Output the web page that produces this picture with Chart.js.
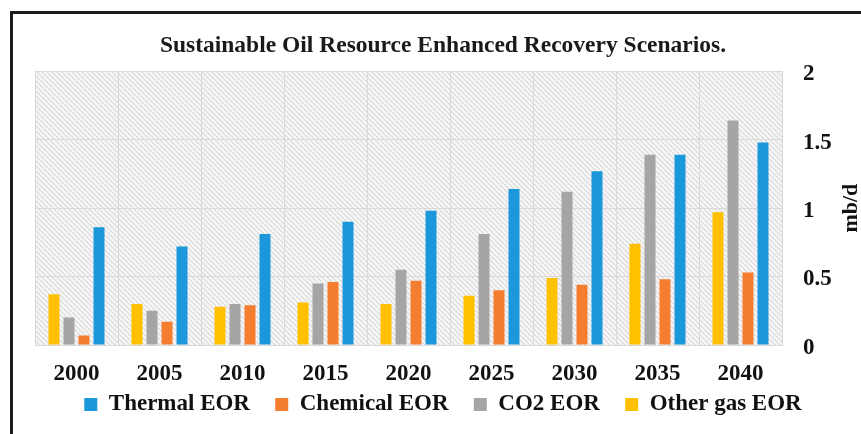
<!DOCTYPE html>
<html>
<head>
<meta charset="utf-8">
<script src="https://cdn.jsdelivr.net/npm/chart.js@4.4.1/dist/chart.umd.min.js"></script>
<style>
  html, body { margin: 0; padding: 0; background: #fff; overflow: hidden; }
  #wrap { position: absolute; left: 0; top: 0; width: 861px; height: 434px; }
  #frame {
    position: absolute; left: 10px; top: 11px; width: 900px; height: 500px;
    border: 3px solid #1c1c1c; pointer-events: none;
  }
</style>
</head>
<body>
<div id="wrap"><canvas id="eorChart"></canvas></div>
<div id="frame"></div>
<script>
const years = ['2000', '2005', '2010', '2015', '2020', '2025', '2030', '2035', '2040']
const thermalEOR = [0.86, 0.72, 0.81, 0.90, 0.98, 1.14, 1.27, 1.39, 1.48]
const chemicalEOR = [0.07, 0.17, 0.29, 0.46, 0.47, 0.40, 0.44, 0.48, 0.53]
const co2EOR = [0.20, 0.25, 0.30, 0.45, 0.55, 0.81, 1.12, 1.39, 1.64]
const otherGasEOR = [0.37, 0.30, 0.28, 0.31, 0.30, 0.36, 0.49, 0.74, 0.97]
const yTicks = [0, 0.5, 1, 1.5, 2]

const serif = "'Liberation Serif', 'Times New Roman', serif"

// light diagonal hatching behind the bars
function makeHatch() {
    const size = 5
    const c = document.createElement('canvas')
    c.width = size
    c.height = size
    const g = c.getContext('2d')
    g.fillStyle = '#f7f7f7'
    g.fillRect(0, 0, size, size)
    g.strokeStyle = '#d9d9d9'
    g.lineWidth = 1.2
    g.beginPath()
    g.moveTo(-1, -1)
    g.lineTo(size + 1, size + 1)
    g.moveTo(-1, size - 1)
    g.lineTo(1, size + 1)
    g.moveTo(size - 1, -1)
    g.lineTo(size + 1, 1)
    g.stroke()
    return c
}

const hatchBackground = {
    id: 'hatchBackground',
    beforeDraw(chart) {
        const { ctx, chartArea } = chart
        ctx.save()
        ctx.fillStyle = ctx.createPattern(makeHatch(), 'repeat')
        ctx.fillRect(chartArea.left, chartArea.top,
            chartArea.right - chartArea.left, chartArea.bottom - chartArea.top)
        ctx.restore()
    }
}

// axis title drawn reading upward, beside the right-hand tick labels
const unitLabel = {
    id: 'unitLabel',
    afterDraw(chart) {
        const { ctx, chartArea } = chart
        ctx.save()
        ctx.translate(851, (chartArea.top + chartArea.bottom) / 2)
        ctx.rotate(-Math.PI / 2)
        ctx.font = 'bold 22px ' + serif
        ctx.fillStyle = '#111'
        ctx.textAlign = 'center'
        ctx.textBaseline = 'middle'
        ctx.fillText('mb/d', 0, 0)
        ctx.restore()
    }
}

const barStyle = {
    categoryPercentage: 0.723,
    barPercentage: 0.733,
    borderWidth: 0
}

new Chart(document.getElementById('eorChart').getContext('2d'), {
    type: 'bar',
    plugins: [hatchBackground, unitLabel],
    data: {
        labels: years,
        datasets: [{
                label: 'Other gas EOR',
                data: otherGasEOR,
                backgroundColor: '#ffc000',
                ...barStyle
            },
            {
                label: 'CO2 EOR',
                data: co2EOR,
                backgroundColor: '#a5a5a5',
                ...barStyle
            },
            {
                label: 'Chemical EOR',
                data: chemicalEOR,
                backgroundColor: '#f47d30',
                ...barStyle
            },
            {
                label: 'Thermal EOR',
                data: thermalEOR,
                backgroundColor: '#1b98d9',
                ...barStyle
            }
        ]
    },
    options: {
        responsive: true,
        maintainAspectRatio: false,
        animation: false,
        layout: {
            padding: { left: 35, right: 10, top: 0, bottom: 8 }
        },
        scales: {
            x: {
                afterFit(scale) {
                    scale.height = 40
                },
                grid: {
                    color: '#d9d9d9',
                    lineWidth: 1,
                    drawTicks: false,
                    offset: true
                },
                border: { color: '#d9d9d9' },
                ticks: {
                    padding: 18,
                    color: '#111',
                    font: { family: serif, size: 23, weight: 'bold', lineHeight: 1 }
                }
            },
            y: {
                position: 'right',
                min: 0,
                max: 2,
                afterBuildTicks(scale) {
                    scale.ticks = yTicks.map(v => ({ value: v }))
                },
                afterFit(scale) {
                    scale.width = 69
                },
                grid: {
                    color: '#d9d9d9',
                    lineWidth: 1,
                    drawTicks: false
                },
                border: { color: '#d9d9d9' },
                ticks: {
                    padding: 21,
                    labelOffset: 3,
                    color: '#111',
                    font: { family: serif, size: 23, weight: 'bold' },
                    callback: v => String(v)
                }
            }
        },
        plugins: {
            title: {
                display: true,
                text: 'Sustainable Oil Resource Enhanced Recovery Scenarios.',
                color: '#1a1a1a',
                font: { family: serif, size: 23.5, weight: 'bold' },
                padding: { top: 32, bottom: 11 }
            },
            legend: {
                position: 'bottom',
                reverse: true,
                labels: {
                    boxWidth: 13,
                    boxHeight: 13,
                    padding: 8,
                    color: '#111',
                    font: { family: serif, size: 23, weight: 'bold', lineHeight: 1 },
                    // wider gaps between entries than the box padding gives
                    generateLabels(chart) {
                        const items = Chart.defaults.plugins.legend.labels.generateLabels(chart)
                        return items.map(item => {
                            if (item.datasetIndex !== 0) item.text += '   '
                            return item
                        })
                    }
                }
            },
            tooltip: { enabled: false }
        }
    }
})
</script>
</body>
</html>
